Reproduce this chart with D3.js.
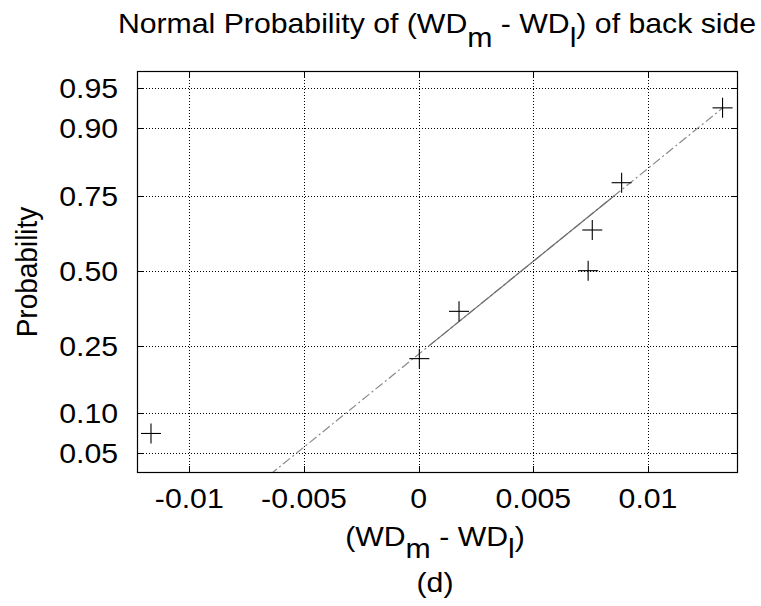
<!DOCTYPE html>
<html>
<head>
<meta charset="UTF-8">
<script src="https://d3js.org/d3.v7.min.js"></script>
<style>
  body { margin: 0; background: #fff; font-family: "Liberation Sans", Arial, sans-serif; }
  text { fill: #000; }
</style>
</head>
<body>
<svg id="chart" width="761" height="606"></svg>
<script>
// values (sorted differences) and their plotting probabilities (i-0.5)/n
const diffs = [-0.01167, 0.00003, 0.00176, 0.00739, 0.00757, 0.00885, 0.01325];
const probs = diffs.map((d, i) => (i + 0.5) / diffs.length);
const xTicks = [-0.01, -0.005, 0, 0.005, 0.01];
const xTickLabels = ["-0.01", "-0.005", "0", "0.005", "0.01"];
const yTicks = [0.05, 0.10, 0.25, 0.50, 0.75, 0.90, 0.95];
const yTickLabels = ["0.05", "0.10", "0.25", "0.50", "0.75", "0.90", "0.95"];

// inverse normal cdf (Acklam)
function probit(p) {
  const a = [-3.969683028665376e+01, 2.209460984245205e+02, -2.759285104469687e+02, 1.383577518672690e+02, -3.066479806614716e+01, 2.506628277459239e+00];
  const b = [-5.447609879822406e+01, 1.615858368580409e+02, -1.556989798598866e+02, 6.680131188771972e+01, -1.328068155288572e+01];
  const c = [-7.784894002430293e-03, -3.223964580411365e-01, -2.400758277161838e+00, -2.549732539343734e+00, 4.374664141464968e+00, 2.938163982698783e+00];
  const d = [7.784695709041462e-03, 3.224671290700398e-01, 2.445134137142996e+00, 3.754408661907416e+00];
  const pl = 0.02425;
  let q, r;
  if (p < pl) {
    q = Math.sqrt(-2 * Math.log(p));
    return (((((c[0]*q+c[1])*q+c[2])*q+c[3])*q+c[4])*q+c[5]) / ((((d[0]*q+d[1])*q+d[2])*q+d[3])*q+1);
  } else if (p <= 1 - pl) {
    q = p - 0.5; r = q * q;
    return (((((a[0]*r+a[1])*r+a[2])*r+a[3])*r+a[4])*r+a[5])*q / (((((b[0]*r+b[1])*r+b[2])*r+b[3])*r+b[4])*r+1);
  } else {
    q = Math.sqrt(-2 * Math.log(1 - p));
    return -(((((c[0]*q+c[1])*q+c[2])*q+c[3])*q+c[4])*q+c[5]) / ((((d[0]*q+d[1])*q+d[2])*q+d[3])*q+1);
  }
}

// matlab-style percentile
function prctile(v, p) {
  const n = v.length;
  const pos = p * n - 0.5;
  if (pos <= 0) return v[0];
  if (pos >= n - 1) return v[n - 1];
  const i = Math.floor(pos), f = pos - i;
  return v[i] + f * (v[i + 1] - v[i]);
}

const margin = { left: 137, top: 71, right: 24, bottom: 134 };
const width = 761, height = 606;
const svg = d3.select("#chart");

const x = d3.scaleLinear().domain([-0.01228, 0.01388]).range([margin.left, width - margin.right]);
const y = d3.scaleLinear().domain([-1.812, 1.797]).range([height - margin.bottom, margin.top]);
const x0 = margin.left, x1 = width - margin.right, y0 = height - margin.bottom, y1 = margin.top;

// grid
const grid = svg.append("g").attr("stroke", "#000").attr("stroke-width", 1).attr("stroke-dasharray", "1,2");
grid.selectAll(".gx").data(xTicks).enter().append("line")
  .attr("x1", d => Math.round(x(d)) + 0.5).attr("x2", d => Math.round(x(d)) + 0.5)
  .attr("y1", y1).attr("y2", y0);
grid.selectAll(".gy").data(yTicks).enter().append("line")
  .attr("y1", d => Math.round(y(probit(d))) + 0.5).attr("y2", d => Math.round(y(probit(d))) + 0.5)
  .attr("x1", x0).attr("x2", x1);

// fitted reference line through quartiles
const q1 = prctile(diffs, 0.25), q3 = prctile(diffs, 0.75);
const z1 = probit(0.25), z3 = probit(0.75);
const slope = (z3 - z1) / (q3 - q1);
const zAt = v => z1 + slope * (v - q1);

svg.append("defs").append("clipPath").attr("id", "clip")
  .append("rect").attr("x", x0).attr("y", y1).attr("width", x1 - x0).attr("height", y0 - y1);

const lines = svg.append("g").attr("clip-path", "url(#clip)").attr("fill", "none");
const xmin = d3.min(diffs), xmax = d3.max(diffs);
lines.append("line")
  .attr("x1", x(xmin)).attr("y1", y(zAt(xmin)))
  .attr("x2", x(xmax)).attr("y2", y(zAt(xmax)))
  .attr("stroke", "#8a8a8a").attr("stroke-width", 1.2).attr("stroke-dasharray", "9,3,2,3");
lines.append("line")
  .attr("x1", x(q1)).attr("y1", y(z1))
  .attr("x2", x(q3)).attr("y2", y(z3))
  .attr("stroke", "#6e6e6e").attr("stroke-width", 1.2);

// markers
const ms = 10;
const pts = svg.append("g").attr("stroke", "#000").attr("stroke-width", 1.1);
diffs.forEach((d, i) => {
  const cx = x(d), cy = y(probit(probs[i]));
  pts.append("line").attr("x1", cx - ms).attr("x2", cx + ms).attr("y1", cy).attr("y2", cy);
  pts.append("line").attr("x1", cx).attr("x2", cx).attr("y1", cy - ms).attr("y2", cy + ms);
});

// box and ticks
svg.append("rect").attr("x", x0 + 0.5).attr("y", y1 + 0.5).attr("width", x1 - x0).attr("height", y0 - y1)
  .attr("fill", "none").attr("stroke", "#000").attr("stroke-width", 1.2);
const tl = 6;
const ticks = svg.append("g").attr("stroke", "#000").attr("stroke-width", 1);
xTicks.forEach(t => {
  const px = Math.round(x(t)) + 0.5;
  ticks.append("line").attr("x1", px).attr("x2", px).attr("y1", y0).attr("y2", y0 - tl);
  ticks.append("line").attr("x1", px).attr("x2", px).attr("y1", y1).attr("y2", y1 + tl);
});
yTicks.forEach(t => {
  const py = Math.round(y(probit(t))) + 0.5;
  ticks.append("line").attr("x1", x0).attr("x2", x0 + tl).attr("y1", py).attr("y2", py);
  ticks.append("line").attr("x1", x1).attr("x2", x1 - tl).attr("y1", py).attr("y2", py);
});

// text in the source is slightly stretched sideways
const fs = 28, sx = 1.08;
const at = (px, py) => `translate(${px},${py}) scale(${sx},1)`;

svg.append("g").selectAll("text").data(xTicks).enter().append("text")
  .attr("transform", d => at(x(d), y0 + 36))
  .attr("text-anchor", "middle").attr("font-size", fs)
  .text((d, i) => xTickLabels[i]);
svg.append("g").selectAll("text").data(yTicks).enter().append("text")
  .attr("transform", d => at(x0 - 19, y(probit(d)) + 10))
  .attr("text-anchor", "end").attr("font-size", fs)
  .text((d, i) => yTickLabels[i]);

// axis labels
svg.append("text").attr("transform", `translate(37,272) scale(${sx},1) rotate(-90)`)
  .attr("text-anchor", "middle").attr("font-size", fs).text("Probability");

function subLabel(sel, tail, sh) {
  sel.append("tspan").text("(WD");
  sel.append("tspan").attr("dy", sh).text("m");
  sel.append("tspan").attr("dy", -sh).text(" - WD");
  sel.append("tspan").attr("dy", sh).text("l");
  sel.append("tspan").attr("dy", -sh).text(")" + tail);
}
const xl = svg.append("text").attr("transform", at(435, 546))
  .attr("text-anchor", "middle").attr("font-size", fs);
subLabel(xl, "", 12);
svg.append("text").attr("transform", at(435, 592))
  .attr("text-anchor", "middle").attr("font-size", fs).text("(d)");

const title = svg.append("text").attr("transform", at(437, 33))
  .attr("text-anchor", "middle").attr("font-size", fs);
title.append("tspan").text("Normal Probability of ");
subLabel(title, " of back side", 14);
</script>
</body>
</html>
